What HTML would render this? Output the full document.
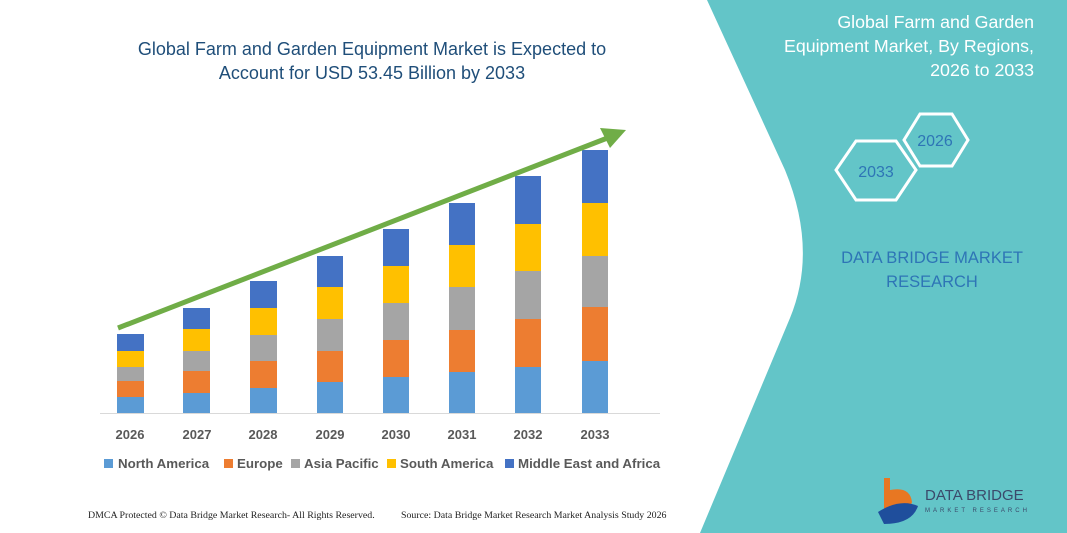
<!DOCTYPE html>
<html><head><style>
body{margin:0;width:1067px;height:533px;overflow:hidden;background:#fff;font-family:"Liberation Sans",sans-serif;}
svg{display:block}
</style></head><body>
<svg width="1067" height="533" viewBox="0 0 1067 533" xmlns="http://www.w3.org/2000/svg">
<path d="M707,0 L1067,0 L1067,533 L700,533 L790,318 Q818,250 785,170 Z" fill="#63C5C8"/>
<g font-family="Liberation Sans,sans-serif" font-size="17.8" fill="#fff" text-anchor="end">
<text x="1034" y="28">Global Farm and Garden</text>
<text x="1034" y="52">Equipment Market, By Regions,</text>
<text x="1034" y="76">2026 to 2033</text>
</g>
<polygon points="920,114 952,114 968,140 952,166 920,166 904,140" fill="none" stroke="#fff" stroke-width="3"/>
<text x="935" y="146" font-size="16" fill="#2E75B6" text-anchor="middle">2026</text>
<polygon points="856,141 896,141 916,170 896,200 856,200 836,170" fill="none" stroke="#fff" stroke-width="3"/>
<text x="876" y="177" font-size="16" fill="#2E75B6" text-anchor="middle">2033</text>
<text x="932" y="263" font-size="16.5" fill="#2E75B6" text-anchor="middle">DATA BRIDGE MARKET</text>
<text x="932" y="287" font-size="16.5" fill="#2E75B6" text-anchor="middle">RESEARCH</text>
<path d="M884,478 L890,478 L890,490 Q910,486 912,502 Q908,518 884,518 Z" fill="#E87722"/>
<path d="M878,512 Q900,498 918,506 Q912,524 884,524 Z" fill="#1F4E9C"/>
<text x="925" y="500" font-size="15" fill="#3B4A6B">DATA BRIDGE</text>
<text x="925" y="512" font-size="6" fill="#3B4A6B" letter-spacing="3">MARKET RESEARCH</text>

<text x="372" y="55" font-size="18" fill="#1F4E79" text-anchor="middle">Global Farm and Garden Equipment Market is Expected to</text>
<text x="372" y="79" font-size="18" fill="#1F4E79" text-anchor="middle">Account for USD 53.45 Billion by 2033</text>

<line x1="100" y1="413.5" x2="660" y2="413.5" stroke="#d9d9d9" stroke-width="1"/>
<g>
<rect x="117" y="397" width="27" height="16" fill="#5B9BD5"/><rect x="117" y="381" width="27" height="16" fill="#ED7D31"/><rect x="117" y="367" width="27" height="14" fill="#A5A5A5"/><rect x="117" y="351" width="27" height="16" fill="#FFC000"/><rect x="117" y="334" width="27" height="17" fill="#4472C4"/>
<rect x="183" y="393" width="27" height="20" fill="#5B9BD5"/><rect x="183" y="371" width="27" height="22" fill="#ED7D31"/><rect x="183" y="351" width="27" height="20" fill="#A5A5A5"/><rect x="183" y="329" width="27" height="22" fill="#FFC000"/><rect x="183" y="308" width="27" height="21" fill="#4472C4"/>
<rect x="250" y="388" width="27" height="25" fill="#5B9BD5"/><rect x="250" y="361" width="27" height="27" fill="#ED7D31"/><rect x="250" y="335" width="27" height="26" fill="#A5A5A5"/><rect x="250" y="308" width="27" height="27" fill="#FFC000"/><rect x="250" y="281" width="27" height="27" fill="#4472C4"/>
<rect x="317" y="382" width="26" height="31" fill="#5B9BD5"/><rect x="317" y="351" width="26" height="31" fill="#ED7D31"/><rect x="317" y="319" width="26" height="32" fill="#A5A5A5"/><rect x="317" y="287" width="26" height="32" fill="#FFC000"/><rect x="317" y="256" width="26" height="31" fill="#4472C4"/>
<rect x="383" y="377" width="26" height="36" fill="#5B9BD5"/><rect x="383" y="340" width="26" height="37" fill="#ED7D31"/><rect x="383" y="303" width="26" height="37" fill="#A5A5A5"/><rect x="383" y="266" width="26" height="37" fill="#FFC000"/><rect x="383" y="229" width="26" height="37" fill="#4472C4"/>
<rect x="449" y="372" width="26" height="41" fill="#5B9BD5"/><rect x="449" y="330" width="26" height="42" fill="#ED7D31"/><rect x="449" y="287" width="26" height="43" fill="#A5A5A5"/><rect x="449" y="245" width="26" height="42" fill="#FFC000"/><rect x="449" y="203" width="26" height="42" fill="#4472C4"/>
<rect x="515" y="367" width="26" height="46" fill="#5B9BD5"/><rect x="515" y="319" width="26" height="48" fill="#ED7D31"/><rect x="515" y="271" width="26" height="48" fill="#A5A5A5"/><rect x="515" y="224" width="26" height="47" fill="#FFC000"/><rect x="515" y="176" width="26" height="48" fill="#4472C4"/>
<rect x="582" y="361" width="26" height="52" fill="#5B9BD5"/><rect x="582" y="307" width="26" height="54" fill="#ED7D31"/><rect x="582" y="256" width="26" height="51" fill="#A5A5A5"/><rect x="582" y="203" width="26" height="53" fill="#FFC000"/><rect x="582" y="150" width="26" height="53" fill="#4472C4"/>
</g>
<line x1="118" y1="328" x2="610" y2="137" stroke="#70AD47" stroke-width="5"/>
<polygon points="626,130 600,128 610,148" fill="#70AD47"/>
<g font-size="13" font-weight="bold" fill="#595959" text-anchor="middle">
<text x="130" y="439">2026</text><text x="197" y="439">2027</text><text x="263" y="439">2028</text><text x="330" y="439">2029</text><text x="396" y="439">2030</text><text x="462" y="439">2031</text><text x="528" y="439">2032</text><text x="595" y="439">2033</text>
</g>
<g font-size="13.3" font-weight="bold" fill="#595959">
<rect x="104" y="459" width="9" height="9" fill="#5B9BD5"/><text x="118" y="468">North America</text>
<rect x="224" y="459" width="9" height="9" fill="#ED7D31"/><text x="237" y="468">Europe</text>
<rect x="291" y="459" width="9" height="9" fill="#A5A5A5"/><text x="304" y="468">Asia Pacific</text>
<rect x="387" y="459" width="9" height="9" fill="#FFC000"/><text x="400" y="468">South America</text>
<rect x="505" y="459" width="9" height="9" fill="#4472C4"/><text x="518" y="468">Middle East and Africa</text>
</g>
<g font-family="Liberation Serif,serif" font-size="9.9" fill="#222">
<text x="88" y="518">DMCA Protected © Data Bridge Market Research- All Rights Reserved.</text>
<text x="401" y="518">Source: Data Bridge Market Research Market Analysis Study 2026</text>
</g>
</svg>
</body></html>
